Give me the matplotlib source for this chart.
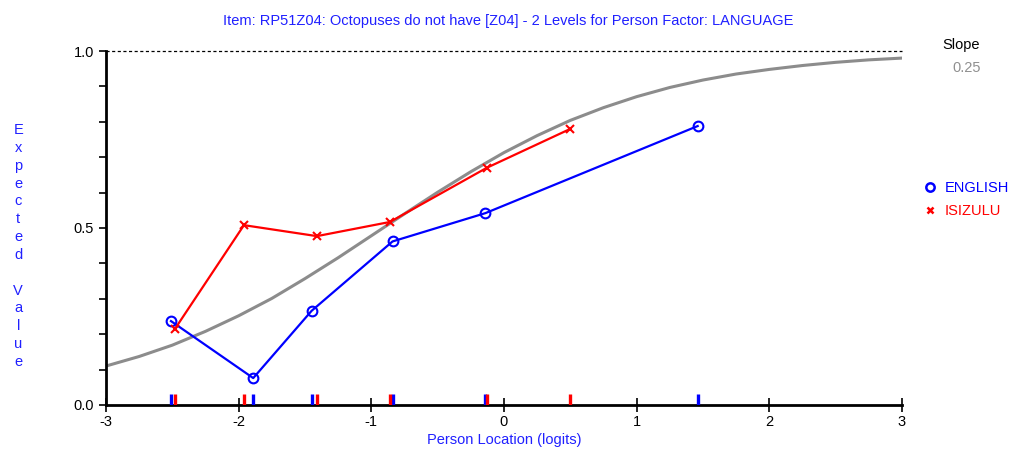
import numpy as np
from matplotlib import pyplot as plt
from matplotlib.lines import Line2D

plt.rcParams['font.family'] = ['Liberation Sans', 'DejaVu Sans']
plt.rcParams['axes.unicode_minus'] = False

# class interval means / observed values
english_x = [-2.51, -1.89, -1.45, -0.84, -0.14, 1.46]
english_y = [0.237, 0.076, 0.266, 0.462, 0.542, 0.788]
isizulu_x = [-2.48, -1.96, -1.41, -0.86, -0.13, 0.50]
isizulu_y = [0.215, 0.508, 0.477, 0.517, 0.670, 0.780]

# expected value curve
icc_x = [-3.0, -2.75, -2.5, -2.25, -2.0, -1.75, -1.5, -1.25, -1.0, -0.75, -0.5, -0.25,
         0.0, 0.25, 0.5, 0.75, 1.0, 1.25, 1.5, 1.75, 2.0, 2.25, 2.5, 2.75, 3.0]
icc_y = [0.110, 0.137, 0.169, 0.208, 0.252, 0.301, 0.357, 0.416, 0.478, 0.540, 0.601, 0.659,
         0.713, 0.761, 0.804, 0.840, 0.871, 0.897, 0.918, 0.935, 0.948, 0.959, 0.968, 0.975, 0.980]

title = "Item: RP51Z04: Octopuses do not have [Z04] - 2 Levels for Person Factor: LANGUAGE"
slope = "0.25"

blue = '#0000ff'
red = '#ff0000'
label_blue = '#2020ff'

fig = plt.figure(figsize=(10.17, 4.53), dpi=100)
ax = fig.add_axes([0.1042, 0.106, 0.7827, 0.7814])

ax.plot(icc_x, icc_y, color='#8c8c8c', lw=2.2, zorder=2)
ax.plot(english_x, english_y, color=blue, lw=1.6, marker='o', ms=7, mfc='none',
        mec=blue, mew=1.5, zorder=3)
ax.plot(isizulu_x, isizulu_y, color=red, lw=1.6, marker='x', ms=6, mew=1.5, zorder=3)

# ticks along the bottom showing the class means
ax.vlines(english_x, 0, 0.03, color=blue, lw=2.4, zorder=4)
ax.vlines(isizulu_x, 0, 0.03, color=red, lw=2.4, zorder=4)

ax.axhline(1.0, color='black', lw=0.9, ls=(0, (2.5, 2)), clip_on=False)

ax.set_xlim(-3, 3)
ax.set_ylim(0, 1)
ax.spines['top'].set_visible(False)
ax.spines['right'].set_visible(False)
ax.spines['left'].set_linewidth(2)
ax.spines['bottom'].set_linewidth(2)

ax.set_xticks(range(-3, 4))
ax.set_yticks([0, 0.5, 1.0])
ax.set_yticklabels(['0.0', '0.5', '1.0'])
ax.set_yticks(np.arange(0.1, 1.0, 0.1), minor=True)
ax.tick_params(axis='x', direction='inout', length=10, width=1.2, labelsize=10.5, pad=2)
ax.tick_params(axis='y', which='major', direction='out', length=5, width=1.2, labelsize=10.5)
ax.tick_params(axis='y', which='minor', direction='out', length=5, width=1.2)

ax.set_xlabel("Person Location (logits)", color=label_blue, fontsize=10.5, labelpad=3)
fig.text(0.018, 0.457, "\n".join("Expected Value"), color=label_blue, fontsize=10.5,
         ha='center', va='center', linespacing=1.35)
fig.text(0.5, 0.953, title, color=label_blue, fontsize=10.5, ha='center', va='center')

fig.text(0.945, 0.9, "Slope", color='black', fontsize=10.5, ha='center', va='center')
fig.text(0.95, 0.85, slope, color='#909090', fontsize=10.5, ha='center', va='center')

handles = [Line2D([], [], color=blue, marker='o', ls='none', ms=6, mfc='none', mew=1.8),
           Line2D([], [], color=red, marker='x', ls='none', ms=5, mew=1.8)]
leg = fig.legend(handles, ['ENGLISH', 'ISIZULU'], loc='center left',
                 bbox_to_anchor=(0.896, 0.56), frameon=False, fontsize=10.5,
                 handlelength=0.8, handletextpad=0.6, labelspacing=0.6)
for t, c in zip(leg.get_texts(), [blue, red]):
    t.set_color(c)

fig.savefig('out.png', dpi=100)
